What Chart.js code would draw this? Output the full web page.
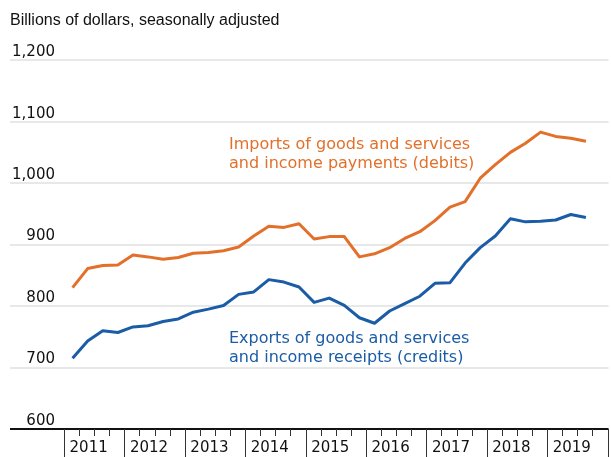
<!DOCTYPE html>
<html>
<head>
<meta charset="utf-8">
<script src="https://cdn.jsdelivr.net/npm/chart.js@4.4.1/dist/chart.umd.min.js"></script>
<style>
  html, body { margin: 0; padding: 0; background: #fff; }
  #wrap { width: 611px; height: 457px; }
</style>
</head>
<body>
<div id="wrap"><canvas id="chart"></canvas></div>
<script>
// Quarterly current-account flows, 2011 Q1 - 2019 Q3 (billions of dollars, SA)
const years = [2011, 2012, 2013, 2014, 2015, 2016, 2017, 2018, 2019];
const quarterLabels = [];
years.forEach(y => ['Q1', 'Q2', 'Q3', 'Q4'].forEach(q => quarterLabels.push(y + ' ' + q)));

const importsDebits = [
    830, 861, 866, 867, 883, 880, 876, 879, 886, 887, 890, 896,
    914, 930, 928, 934, 909, 913, 913, 880, 885, 895, 910, 921,
    939, 961, 970, 1008, 1030, 1050, 1065, 1083, 1076, 1073, 1068
];
const exportsCredits = [
    715, 743, 760, 757, 766, 768, 775, 779, 790, 795, 801, 819,
    823, 843, 839, 831, 806, 813, 801, 781, 772, 792, 804, 816,
    837, 838, 870, 895, 914, 942, 937, 938, 940, 949, 944
];

const yTicks = [600, 700, 800, 900, 1000, 1100, 1200];

const importsNote = ['Imports of goods and services', 'and income payments (debits)'];
const exportsNote = ['Exports of goods and services', 'and income receipts (credits)'];

const ORANGE = '#e2702a';
const BLUE = '#1b5ca6';
const GRID = '#e6e8ea';
const FONT = '"DejaVu Sans", sans-serif';

// year separators and quarter tick marks under the axis
const quarterTicks = {
    id: 'quarterTicks',
    afterDraw(chart) {
        const x = chart.scales.x;
        const ctx = chart.ctx;
        const half = (x.getPixelForValue(1) - x.getPixelForValue(0)) / 2;
        ctx.save();
        ctx.strokeStyle = '#333';
        ctx.lineWidth = 1;
        for (let i = 0; i <= quarterLabels.length; i++) {
            const px = Math.round(x.getPixelForValue(i) - half) - 0.5;
            const isYear = i % 4 === 0;
            ctx.beginPath();
            ctx.moveTo(px, x.top);
            ctx.lineTo(px, isYear ? x.bottom : x.top + 7);
            ctx.stroke();
        }
        ctx.restore();
    }
};

// inline series labels
const seriesNotes = {
    id: 'seriesNotes',
    afterDatasetsDraw(chart) {
        const ctx = chart.ctx;
        ctx.save();
        ctx.font = '16px ' + FONT;
        ctx.textBaseline = 'alphabetic';
        ctx.fillStyle = ORANGE;
        importsNote.forEach((line, k) => ctx.fillText(line, 229, 149 + k * 19));
        ctx.fillStyle = BLUE;
        exportsNote.forEach((line, k) => ctx.fillText(line, 229, 343 + k * 19));
        ctx.restore();
    }
};

new Chart(document.getElementById('chart'), {
    type: 'line',
    data: {
        labels: quarterLabels,
        datasets: [{
            label: 'Imports',
            data: importsDebits,
            borderColor: ORANGE,
            borderWidth: 3,
            pointRadius: 0,
            tension: 0,
            borderJoinStyle: 'round'
        }, {
            label: 'Exports',
            data: exportsCredits,
            borderColor: BLUE,
            borderWidth: 3,
            pointRadius: 0,
            tension: 0,
            borderJoinStyle: 'round'
        }]
    },
    options: {
        responsive: true,
        maintainAspectRatio: false,
        animation: false,
        layout: { padding: { left: 10, right: 0, top: 0, bottom: 0 } },
        plugins: {
            legend: { display: false },
            tooltip: { enabled: false },
            title: {
                display: true,
                text: 'Billions of dollars, seasonally adjusted',
                align: 'start',
                color: '#111',
                font: { family: '"Liberation Sans", sans-serif', size: 16, weight: 'normal' },
                padding: { top: 11, bottom: 30 }
            }
        },
        scales: {
            x: {
                type: 'category',
                offset: true,
                grid: { display: false, drawTicks: false },
                border: { display: false },
                ticks: {
                    autoSkip: false,
                    maxRotation: 0,
                    align: 'start',
                    labelOffset: -3,
                    padding: 10,
                    color: '#111',
                    font: { family: FONT, size: 15 },
                    callback: (v, i) => quarterLabels[i].endsWith('Q1') ? quarterLabels[i].slice(0, 4) : ''
                },
                afterFit: s => { s.height = 28; }
            },
            y: {
                min: 600,
                max: 1200,
                afterBuildTicks: s => { s.ticks = yTicks.map(v => ({ value: v })); },
                grid: {
                    color: c => c.tick && c.tick.value === 600 ? '#111' : GRID,
                    lineWidth: 2,
                    tickLength: 55
                },
                border: { display: false },
                ticks: {
                    padding: -45,
                    labelOffset: -8,
                    color: '#111',
                    font: { family: FONT, size: 15 },
                    callback: v => v.toLocaleString('en-US')
                },
                afterFit: s => { s.width = 55; }
            }
        }
    },
    plugins: [quarterTicks, seriesNotes]
});
</script>
</body>
</html>
